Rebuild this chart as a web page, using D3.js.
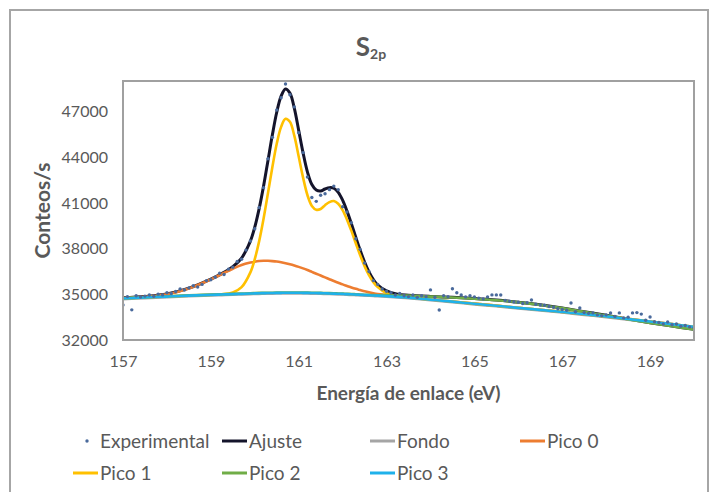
<!DOCTYPE html>
<html>
<head>
<meta charset="utf-8">
<script src="https://cdn.jsdelivr.net/npm/d3@7"></script>
<style>
  body { margin: 0; background: #fff; }
  text { font-family: Lato, "Open Sans", sans-serif; fill: #595959; }
</style>
</head>
<body>
<div id="chart"></div>
<script>
// fit grid (eV) shared by the fitted curves
const energy = [157, 157.5, 158, 158.5, 159, 159.25, 159.5, 159.7, 159.9, 160.0,
  160.1, 160.2, 160.3, 160.4, 160.5, 160.6, 160.7, 160.8, 160.9, 161.0,
  161.1, 161.2, 161.3, 161.4, 161.5, 161.6, 161.7, 161.8, 161.9, 162.0,
  162.1, 162.2, 162.3, 162.4, 162.5, 162.6, 162.7, 162.8, 163.0, 163.25,
  163.5, 164, 164.5, 165, 165.5, 166, 166.5, 167, 167.5, 168,
  168.5, 169, 169.5, 170];

const ajuste = [34780, 34860, 35020, 35400, 36000, 36360, 36810, 37380, 38490, 39410,
  40620, 42100, 43770, 45450, 46950, 48010, 48480, 48210, 47220, 45760,
  44280, 43020, 42200, 41840, 41780, 41910, 42000, 41960, 41690, 41180,
  40460, 39630, 38740, 37890, 37120, 36470, 35970, 35600, 35220, 35010,
  34940, 34860, 34800, 34720, 34620, 34480, 34310, 34100, 33860, 33620,
  33370, 33130, 32910, 32700];

const fondo = [34680, 34750, 34810, 34870, 34920, 34945, 34970, 34990, 35010, 35020,
  35030, 35035, 35040, 35045, 35050, 35055, 35060, 35060, 35060, 35060,
  35055, 35050, 35045, 35040, 35035, 35025, 35015, 35005, 34995, 34985,
  34970, 34960, 34945, 34930, 34915, 34900, 34885, 34870, 34840, 34790,
  34740, 34610, 34480, 34340, 34210, 34070, 33940, 33800, 33650, 33500,
  33340, 33170, 33000, 32820];

const pico0 = [34760, 34840, 35000, 35380, 35980, 36330, 36680, 36920, 37080, 37140,
  37180, 37200, 37200, 37180, 37150, 37100, 37040, 36970, 36890, 36800,
  36700, 36590, 36470, 36350, 36230, 36110, 35990, 35870, 35760, 35650,
  35550, 35450, 35360, 35280, 35200, 35130, 35070, 35020, 34950, 34870,
  34800, 34660, 34525, 34385, 34255, 34115, 33985, 33845, 33695, 33545,
  33385, 33215, 33045, 32865];

const pico1 = [34725, 34795, 34855, 34915, 34965, 35000, 35120, 35470, 36440, 37310,
  38490, 39960, 41630, 43340, 44880, 45990, 46520, 46320, 45410, 44040,
  42660, 41500, 40800, 40550, 40600, 40850, 41050, 41120, 40940, 40530,
  39900, 39160, 38350, 37560, 36850, 36260, 35800, 35470, 35070, 34870,
  34785, 34655, 34525, 34385, 34255, 34115, 33985, 33845, 33695, 33545,
  33385, 33215, 33045, 32865];

const pico2 = [34740, 34810, 34870, 34930, 34980, 35005, 35030, 35050, 35070, 35080,
  35090, 35095, 35100, 35105, 35110, 35115, 35120, 35120, 35120, 35120,
  35115, 35110, 35105, 35100, 35095, 35085, 35075, 35065, 35055, 35045,
  35030, 35020, 35005, 34990, 34975, 34960, 34950, 34940, 34945, 34930,
  34910, 34850, 34790, 34710, 34610, 34470, 34300, 34090, 33850, 33610,
  33360, 33120, 32900, 32690];

const pico3 = [34720, 34790, 34850, 34910, 34960, 34985, 35010, 35030, 35050, 35060,
  35070, 35075, 35080, 35085, 35090, 35095, 35100, 35100, 35100, 35100,
  35095, 35090, 35085, 35080, 35075, 35065, 35055, 35045, 35035, 35025,
  35010, 35000, 34985, 34970, 34955, 34940, 34925, 34910, 34880, 34830,
  34780, 34650, 34520, 34380, 34250, 34110, 33980, 33840, 33690, 33540,
  33380, 33210, 33040, 32860];

// measured points, 157.0 .. 170.0 eV every 0.1 eV
const expCounts = [34300, 34850, 33980, 34900, 34820, 34880, 34950, 34870, 35010, 34960,
  35100, 35050, 35180, 35350, 35280, 35420, 35560, 35480, 35650, 35900,
  35950, 36120, 36380, 36300, 36650, 36780, 37150, 37300, 37900, 38500,
  39300, 40700, 42000, 43900, 45300, 47100, 47900, 48800, 48100, 47300,
  45600, 44300, 42700, 41350, 41100, 41500, 41600, 41870, 42100, 41870,
  40750, 40400, 39700, 38650, 37950, 37050, 36500, 35900, 35650, 35350,
  35200, 35100, 34950, 35050, 34900, 34850, 34950, 34800, 34900, 34850,
  35290, 34800, 33970, 34900, 34850, 35360, 35100, 34960, 34830, 34900,
  34830, 34750, 34700, 34830, 34960, 34960, 34950, 34600, 34550, 34500,
  34480, 34400, 34450, 34630, 34350, 34300, 34280, 34200, 34150, 34050,
  34000, 33950, 34430, 33850, 34100, 33800, 33750, 33780, 33650, 33600,
  33650, 33780, 33550, 33780, 33450, 33500, 33780, 33800, 33700, 33300,
  33510, 33200, 33150, 33050, 33180, 33000, 33050, 32900, 32950, 32860,
  32800];
const expEnergy = d3.range(1570, 1701).map((v) => v / 10);

const xTicks = [157, 159, 161, 163, 165, 167, 169];
const yTicks = [32000, 35000, 38000, 41000, 44000, 47000];

const seriesNames = ["Experimental", "Ajuste", "Fondo", "Pico 0", "Pico 1", "Pico 2", "Pico 3"];
const seriesColours = ["#4a6a9c", "#14142b", "#a5a5a5", "#ed7d31", "#ffc000", "#70ad47", "#1fb1ea"];

const width = 710;
const height = 492;
const plot = { left: 123, right: 694, top: 81, bottom: 340 };

const svg = d3.select("#chart").append("svg")
  .attr("width", width)
  .attr("height", height);

svg.append("rect").attr("width", width).attr("height", height).attr("fill", "#fff");
// chart frame (bottom runs off the page like in the screenshot)
svg.append("rect")
  .attr("x", 10).attr("y", 10)
  .attr("width", 698).attr("height", 495)
  .attr("fill", "none").attr("stroke", "#a6a6a6").attr("stroke-width", 2);

const x = d3.scaleLinear().domain([157, 170]).range([plot.left, plot.right]);
const y = d3.scaleLinear().domain([32000, 49000]).range([plot.bottom, plot.top]);

svg.append("defs").append("clipPath").attr("id", "clip")
  .append("rect")
  .attr("x", plot.left).attr("y", plot.top)
  .attr("width", plot.right - plot.left).attr("height", plot.bottom - plot.top);

// axes: labels only, no tick marks
const xAxis = svg.append("g")
  .attr("transform", `translate(0,${plot.bottom})`)
  .call(d3.axisBottom(x).tickValues(xTicks).tickSize(0).tickPadding(16).tickFormat(d3.format("d")));
const yAxis = svg.append("g")
  .attr("transform", `translate(${plot.left},0)`)
  .call(d3.axisLeft(y).tickValues(yTicks).tickSize(0).tickPadding(15).tickFormat(d3.format("d")));
[xAxis, yAxis].forEach((g) => {
  g.select(".domain").remove();
  g.selectAll("text").style("font-size", "16px").attr("fill", "#595959");
});

const layer = svg.append("g").attr("clip-path", "url(#clip)");

const curves = [ajuste, fondo, pico0, pico1, pico2, pico3];
const line = d3.line()
  .x((d, i) => x(energy[i]))
  .y((d) => y(d))
  .curve(d3.curveCatmullRom.alpha(0.5));

curves.forEach((values, k) => {
  layer.append("path")
    .datum(values)
    .attr("d", line)
    .attr("fill", "none")
    .attr("stroke", seriesColours[k + 1])
    .attr("stroke-width", k === 0 ? 3 : 2.6)
    .attr("stroke-linejoin", "round");
});

// measured points on top of the fit
layer.selectAll(".dot")
  .data(expCounts)
  .enter()
  .append("circle")
  .attr("class", "dot")
  .attr("cx", (d, i) => x(expEnergy[i]))
  .attr("cy", (d) => y(d))
  .attr("r", 1.7)
  .attr("fill", seriesColours[0]);

// plot frame
svg.append("rect")
  .attr("x", plot.left).attr("y", plot.top)
  .attr("width", plot.right - plot.left).attr("height", plot.bottom - plot.top)
  .attr("fill", "none").attr("stroke", "#a0a0a0").attr("stroke-width", 2);

// titles
const title = svg.append("text")
  .attr("x", 371).attr("y", 56)
  .attr("text-anchor", "middle")
  .style("font-weight", "bold")
  .style("font-size", "26px");
title.append("tspan").text("S");
title.append("tspan").attr("dy", 3).style("font-size", "14px").text("2p");

svg.append("text")
  .attr("transform", `translate(50,${(plot.top + plot.bottom) / 2}) rotate(-90)`)
  .attr("text-anchor", "middle")
  .style("font-weight", "bold")
  .style("font-size", "21px")
  .text("Conteos/s");

svg.append("text")
  .attr("x", (plot.left + plot.right) / 2)
  .attr("y", 400)
  .attr("text-anchor", "middle")
  .style("font-weight", "bold")
  .style("font-size", "19px")
  .text("Energía de enlace (eV)");

// legend
const legendCols = [73, 222, 370, 520];
const legend = svg.append("g");
seriesNames.forEach((name, i) => {
  const cx = legendCols[i % 4];
  const cy = i < 4 ? 441 : 473;
  const item = legend.append("g").attr("transform", `translate(${cx},${cy})`);
  if (i === 0) {
    item.append("circle").attr("cx", 14).attr("cy", 0).attr("r", 1.7).attr("fill", seriesColours[0]);
  } else {
    item.append("line").attr("x1", 0).attr("x2", 25).attr("y1", 0).attr("y2", 0)
      .attr("stroke", seriesColours[i]).attr("stroke-width", 3);
  }
  item.append("text")
    .attr("x", 27).attr("y", 0).attr("dy", "0.35em")
    .style("font-size", "19px")
    .text(name);
});
</script>
</body>
</html>
